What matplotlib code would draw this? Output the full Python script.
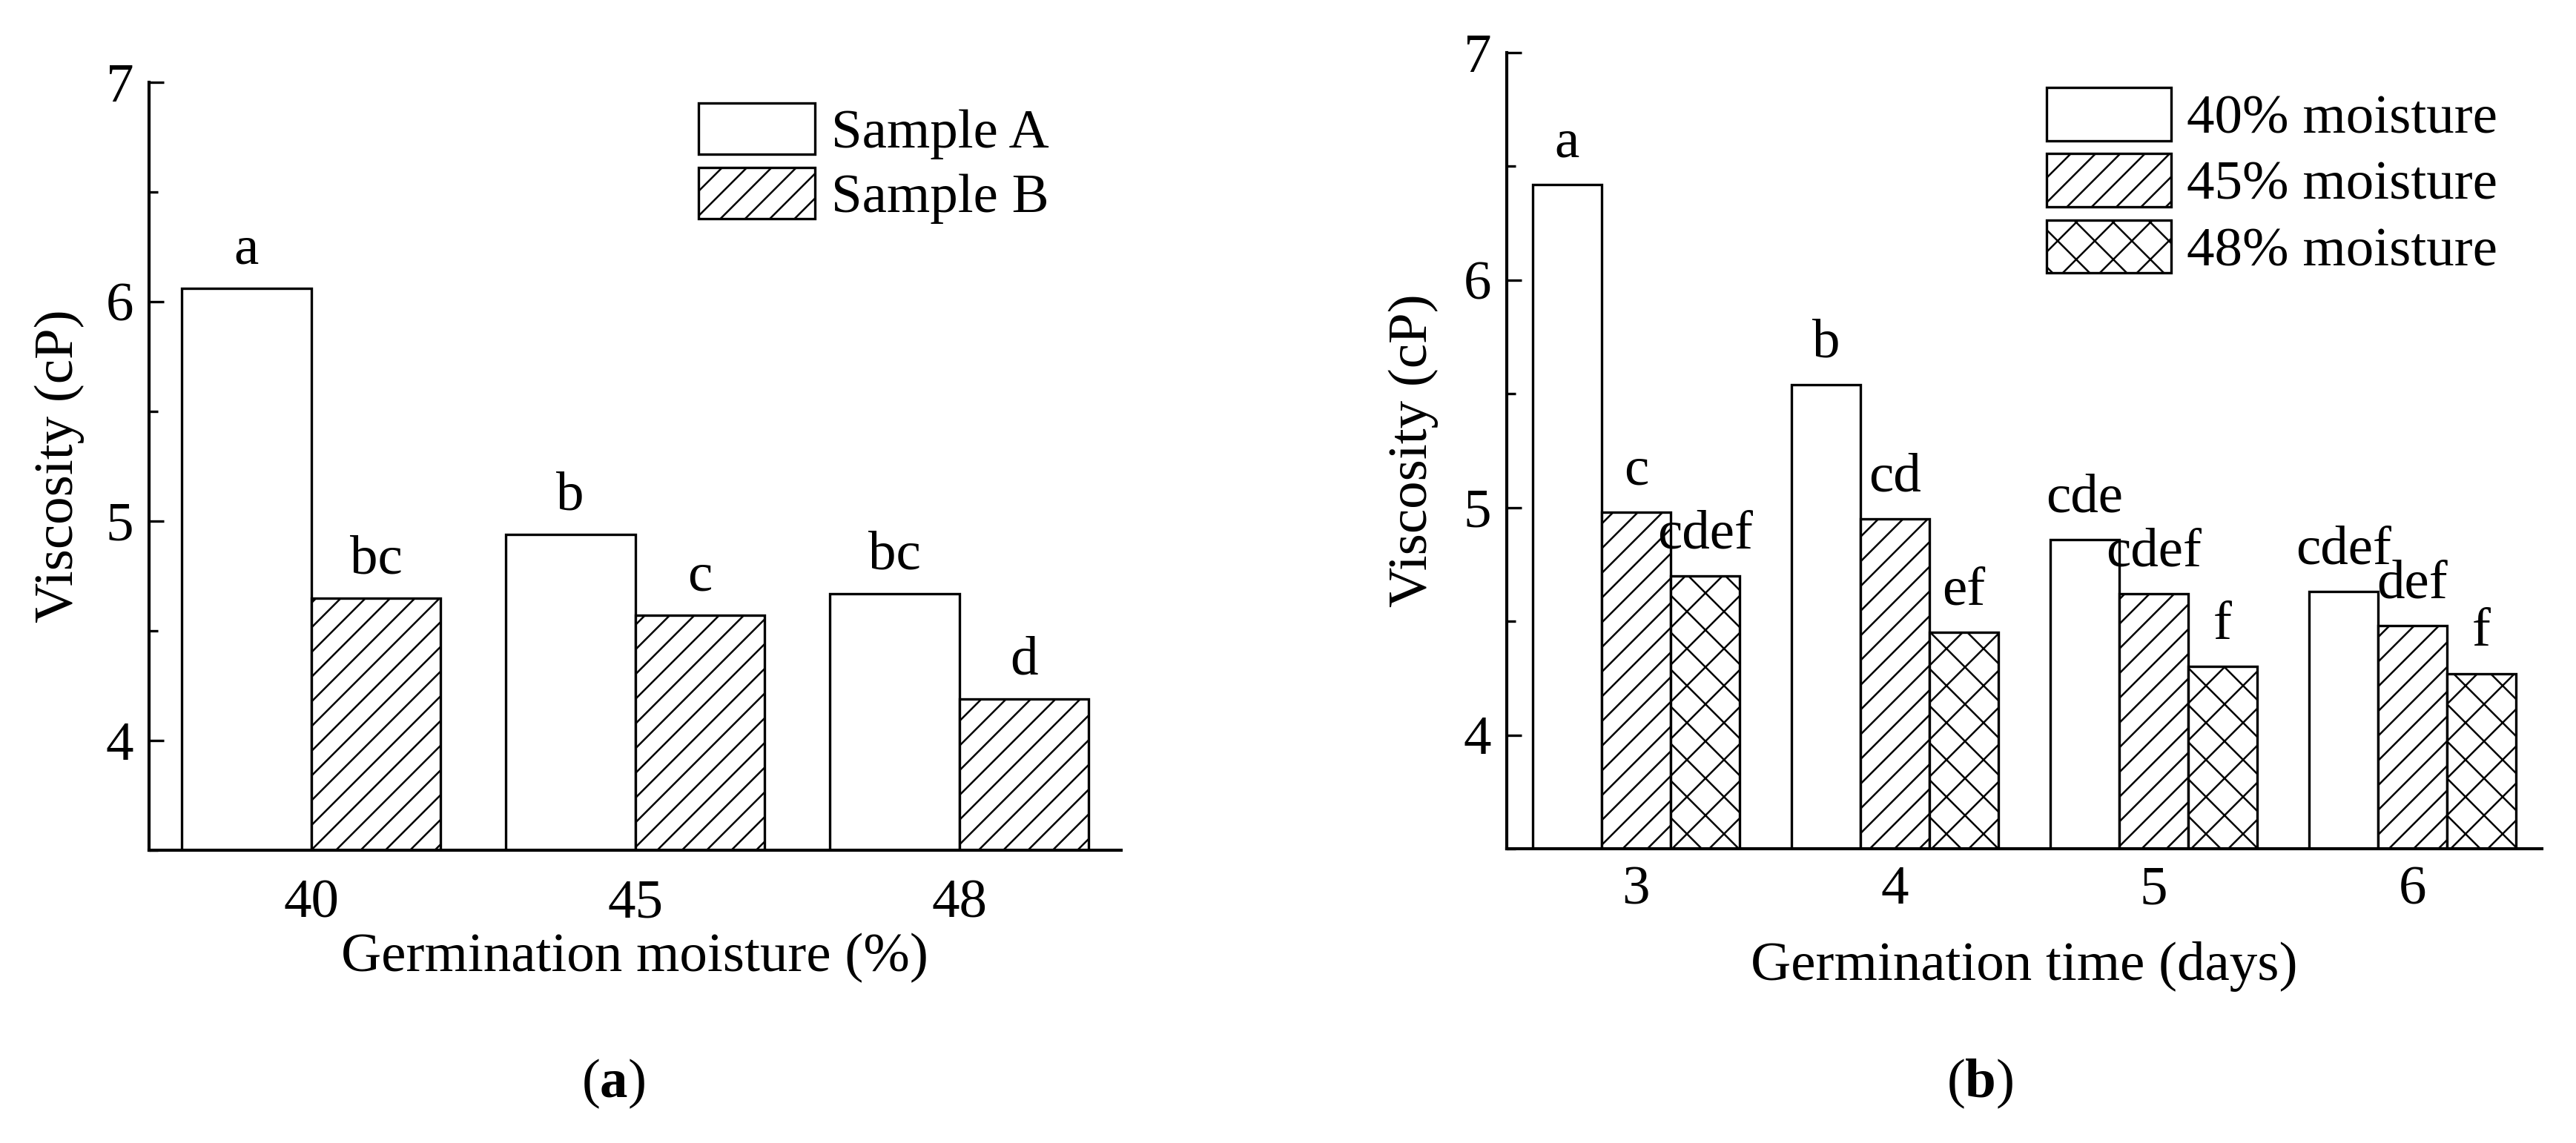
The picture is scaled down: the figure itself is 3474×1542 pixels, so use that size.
import matplotlib
matplotlib.use('Agg')
import matplotlib.pyplot as plt
import numpy as np

plt.rcParams.update({'font.family': ['Liberation Serif', 'DejaVu Serif'],
                     'font.size': 18,
                     'mathtext.fontset': 'custom',
                     'mathtext.rm': 'Liberation Serif',
                     'mathtext.bf': 'Liberation Serif:bold',
                     'hatch.linewidth': 0.6,
                     'axes.linewidth': 1.0})

# ---------------- data (a) ----------------
moisture = ['40', '45', '48']
sample_a = [6.06, 4.94, 4.67]
sample_b = [4.65, 4.57, 4.19]
letters_a = ['a', 'b', 'bc']
letters_b = ['bc', 'c', 'd']

# ---------------- data (b) ----------------
days = ['3', '4', '5', '6']
m40 = [6.42, 5.54, 4.86, 4.63]
m45 = [4.98, 4.95, 4.62, 4.48]
m48 = [4.70, 4.45, 4.30, 4.27]
letters40 = ['a', 'b', 'cde', 'cdef']
letters45 = ['c', 'cd', 'cdef', 'def']
letters48 = ['cdef', 'ef', 'f', 'f']

fig = plt.figure(figsize=(11.58, 5.14), dpi=300)
ax1 = fig.add_axes([0.05786, 0.2562, 0.3774, 0.6719])
ax2 = fig.add_axes([0.5849, 0.2575, 0.4018, 0.6965])

bar_kw = dict(edgecolor='black', linewidth=0.8)


def style(ax, xpad):
    ax.spines['top'].set_visible(False)
    ax.spines['right'].set_visible(False)
    ax.set_ylim(3.5, 7)
    ax.set_yticks([4, 5, 6, 7])
    ax.set_yticks(np.arange(3.5, 7.01, 0.5), minor=True)
    ax.tick_params(axis='y', which='major', direction='in', length=4.8,
                   width=0.8, pad=5, labelsize=18)
    ax.tick_params(axis='y', which='minor', direction='in', length=2.9,
                   width=0.8)
    ax.tick_params(axis='x', length=0, pad=xpad, labelsize=18)


def label_bars(ax, xs, vals, labs, dy=8):
    for x, v, s in zip(xs, vals, labs):
        ax.annotate(s, (x, v), xytext=(0, dy), textcoords='offset points',
                    ha='center', va='baseline', fontsize=18)


# (a)
x = np.arange(len(moisture))
w = 0.4
ax1.bar(x - w / 2, sample_a, w, color='white', label='Sample A', **bar_kw)
ax1.bar(x + w / 2, sample_b, w, color='white', hatch='///', label='Sample B', **bar_kw)
label_bars(ax1, x - w / 2, sample_a, letters_a)
label_bars(ax1, x + w / 2, sample_b, letters_b)
ax1.set_xlim(-0.5, 2.5)
ax1.set_xticks(x)
ax1.set_xticklabels(moisture)
style(ax1, 9.4)
ax1.legend(loc='upper left', bbox_to_anchor=(0.565, 0.973), frameon=False,
           borderpad=0, borderaxespad=0, handlelength=2.09, handleheight=1.04,
           labelspacing=0.15, handletextpad=0.3, fontsize=18)

# (b)
x = np.arange(len(days))
w = 0.8 / 3
ax2.bar(x - w, m40, w, color='white', label='40% moisture', **bar_kw)
ax2.bar(x, m45, w, color='white', hatch='///', label='45% moisture', **bar_kw)
ax2.bar(x + w, m48, w, color='white', hatch='xx', label='48% moisture', **bar_kw)
label_bars(ax2, x - w, m40, letters40, dy=9)
label_bars(ax2, x, m45, letters45, dy=9)
label_bars(ax2, x + w, m48, letters48, dy=9)
ax2.set_xlim(-0.5, 3.5)
ax2.set_xticks(x)
ax2.set_xticklabels(days)
style(ax2, 5.5)
ax2.legend(loc='upper left', bbox_to_anchor=(0.5215, 0.956), frameon=False,
           borderpad=0, borderaxespad=0, handlelength=2.24, handleheight=1.09,
           labelspacing=0.16, handletextpad=0.28, fontsize=18)

# axis titles and panel labels
fig.text(0.0230, 0.592, 'Viscosity (cP)', rotation=90, ha='center', va='center', fontsize=18)
fig.text(0.5486, 0.6057, 'Viscosity (cP)', rotation=90, ha='center', va='center', fontsize=18)
fig.text(0.2464, 0.1505, 'Germination moisture (%)', ha='center', va='baseline', fontsize=18)
fig.text(0.7858, 0.1427, 'Germination time (days)', ha='center', va='baseline', fontsize=18)
fig.text(0.238, 0.0519, r'($\mathbf{a}$)', ha='center', va='center', fontsize=18)
fig.text(0.7686, 0.0519, r'($\mathbf{b}$)', ha='center', va='center', fontsize=18)

fig.savefig('out.png', dpi=300)
